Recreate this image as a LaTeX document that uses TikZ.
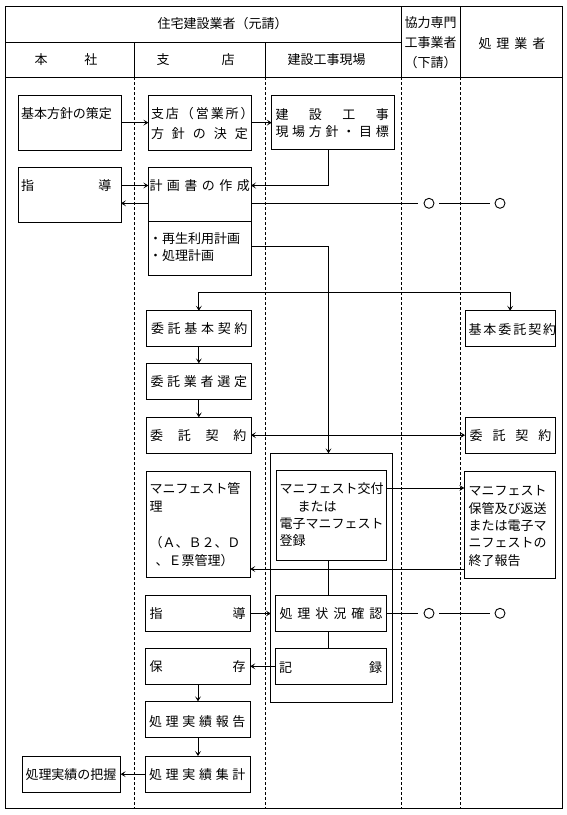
\documentclass[tikz,border=0pt]{standalone}
\usepackage{fontspec}
\setmainfont{Noto Sans CJK JP}
\usetikzlibrary{arrows.meta,fit,calc}
\newcommand\spr[2]{\makebox[#1][s]{#2}}
\newcommand\ml[2]{\parbox[t]{150pt}{\lineskiplimit=-100pt\setlength\baselineskip{#1}#2}}
\tikzset{
  ln/.style={line width=0.9pt},
  box/.style={draw, line width=0.9pt, inner sep=0pt, outer sep=0pt},
  txt/.style={inner sep=0pt, outer sep=0pt, anchor=base west, font=\fontsize{13pt}{17pt}\selectfont},
  arr/.style={line width=0.9pt, -{Stealth[length=5pt,width=6pt,inset=2.5pt]}},
  arrtwo/.style={line width=0.9pt, {Stealth[length=5pt,width=6pt,inset=2.5pt]}-{Stealth[length=5pt,width=6pt,inset=2.5pt]}},
  dsh/.style={line width=0.9pt, dash pattern=on 3pt off 2pt},
  circ/.style={circle, draw, line width=0.9pt, minimum size=10pt, inner sep=0pt}
}
\begin{document}
\begin{tikzpicture}[x=1pt,y=-1pt]
\useasboundingbox (0,0) rectangle (566,815);
% frame and header
\draw[ln] (5,6) rectangle (562.5,808);
\draw[ln] (5,42.3) -- (401.7,42.3);
\draw[ln] (5,77.3) -- (562.5,77.3);
\draw[ln] (134.3,42.3) -- (134.3,77.3);
\draw[ln] (265.7,42.3) -- (265.7,77.3);
\draw[ln] (401.7,6) -- (401.7,77.3);
\draw[ln] (460.5,6) -- (460.5,77.3);
\draw[dsh] (134.3,77.3) -- (134.3,808);
\draw[dsh] (265.7,77.3) -- (265.7,808);
\draw[dsh] (401.7,77.3) -- (401.7,808);
\draw[dsh] (460.5,77.3) -- (460.5,808);
\node[txt] (H1) at (157.5,28.4) {住宅建設業者（元請）};
\node[txt] (H2) at (34.5,64.9) {\spr{63pt}{本 社}};
\node[txt] (H3) at (156.5,64.9) {\spr{78pt}{支 店}};
\node[txt] (H4) at (287.5,64.9) {建設工事現場};
\node[txt] (H5) at (404.5,27.6) {\ml{20pt}{協力専門\\工事業者\\（下請）}};
\node[txt] (H6) at (478.5,48.6) {\spr{67pt}{処 理 業 者}};
% boxes
\node[box, fit={(18.3,95) (121,150.3)}] (B1) {};
\node[box, fit={(148.3,95) (251,150.3)}] (B2) {};
\node[box, fit={(271.7,95.3) (394.3,149.3)}] (B3) {};
\node[box, fit={(18.3,167.7) (121,222.3)}] (B4) {};
\node[box, fit={(148.3,167.7) (251,275)}] (B5) {};
\node[box, fit={(146.7,310.7) (251,346)}] (B6) {};
\node[box, fit={(146.7,363.3) (251,399)}] (B7) {};
\node[box, fit={(146.7,417.3) (251,453)}] (B8) {};
\node[box, fit={(465,310.7) (555.3,346)}] (B9) {};
\node[box, fit={(465,417.3) (555.3,453.3)}] (B10) {};
\node[box, fit={(146.7,471.7) (250.3,577.3)}] (B11) {};
\node[box, fit={(145.7,595.7) (250.3,631.3)}] (B12) {};
\node[box, fit={(270.7,453.3) (392.3,702.3)}] (C) {};
\node[box, fit={(276,470) (386.7,560.3)}] (B13) {};
\node[box, fit={(464.3,471.3) (555.3,578.3)}] (B14) {};
\node[box, fit={(275.7,595.3) (386.7,631.3)}] (B15) {};
\node[box, fit={(275.7,648.3) (386.7,684.3)}] (B16) {};
\node[box, fit={(145.7,648.3) (250.3,684)}] (B17) {};
\node[box, fit={(145.7,701.3) (250.3,737.3)}] (B18) {};
\node[box, fit={(145.7,756) (250.3,792.3)}] (B19) {};
\node[box, fit={(22.3,756) (120.7,792.3)}] (B20) {};
% texts
\node[txt] (T1) at (21,118.2) {基本方針の策定};
\node[txt] (T2) at (151,118.2) {\ml{20pt}{\spr{97pt}{支 店 （ 営 業 所 ）}\\\spr{97pt}{方 針 の 決 定}}};
\node[txt] (T3) at (275.5,119.2) {\ml{17.4pt}{\spr{113.5pt}{建 設 工 事}\\\spr{113.5pt}{現 場 方 針 ・ 目 標}}};
\node[txt] (T4) at (21,190.9) {\spr{90.5pt}{指 導}};
\node[txt] (T5) at (149.5,190.9) {\spr{100.5pt}{計 画 書 の 作 成}};
\node[txt] (T5b) at (149,243.9) {\ml{16.7pt}{・再生利用計画\\・処理計画}};
\node[txt] (T6) at (151,333.9) {\spr{96.5pt}{委 託 基 本 契 約}};
\node[txt] (T7) at (150.5,386.6) {\spr{96.7pt}{委 託 業 者 選 定}};
\node[txt] (T8) at (150,440.6) {\spr{96.5pt}{委 託 契 約}};
\node[txt] (T9) at (468.5,334.2) {\spr{81pt}{基 本 委 託 契 約}};
\node[txt] (T10) at (469.5,440.6) {\spr{82pt}{委 託 契 約}};
\node[txt] (T11) at (149.5,493.9) {\ml{18pt}{マニフェスト管\\理\\\mbox{}\\（Ａ、Ｂ２、Ｄ\\\hspace*{6pt}、Ｅ票管理）}};
\node[txt] (T12) at (149.5,618.2) {\spr{96pt}{指 導}};
\node[txt] (T13) at (279.5,493.9) {\ml{17.2pt}{マニフェスト交付\\\hspace*{18pt}または\\電子マニフェスト\\登録}};
\node[txt] (T14) at (468.5,495.9) {\ml{17.3pt}{マニフェスト\\保管及び返送\\または電子マ\\ニフェストの\\終了報告}};
\node[txt] (T15) at (279.5,618.2) {\spr{103pt}{処 理 状 況 確 認}};
\node[txt] (T16) at (279,672.6) {\spr{103pt}{記 録}};
\node[txt] (T17) at (149.5,671.6) {\spr{96pt}{保 存}};
\node[txt] (T18) at (149,726.6) {\spr{96.5pt}{処 理 実 績 報 告}};
\node[txt] (T19) at (149,779.2) {\spr{96.5pt}{処 理 実 績 集 計}};
\node[txt] (T20) at (25.5,779.2) {処理実績の把握};
% circles
\node[circ] (O1) at (429,203.3) {};
\node[circ] (O2) at (500,203.3) {};
\node[circ] (O3) at (429,613.3) {};
\node[circ] (O4) at (500,613.3) {};
% helper coordinates
\coordinate (vx) at (328.5,0);
\coordinate (y185) at (0,185.5);
\coordinate (y203) at (0,203.3);
\coordinate (y221) at (0,221.3);
\coordinate (y246) at (0,246.7);
\coordinate (y292) at (0,292.3);
\coordinate (y488) at (0,488);
\coordinate (y569) at (0,569);
\draw[ln] (B5.west |- y221) -- (B5.east |- y221);
% connectors
\draw[arr] (B1) -- (B2);
\draw[arr] (B2.east) -- (B2.east -| B3.west);
\draw[arr] (B3.south -| vx) |- (B5.east |- y185);
\draw[arr] (B4.east |- y185) -- (B5.west |- y185);
\draw[arr] (B5.west |- y203) -- (B4.east |- y203);
\draw[ln, shorten >=6pt] (B5.east |- y203) -- (O1);
\draw[ln, shorten <=5pt, shorten >=5pt] (O1) -- (O2);
\draw[arr] (B5.east |- y246) -| (C.north -| vx);
\coordinate (J) at (vx |- y292);
\draw[arr] (J) -| (B6.north);
\draw[arr] (J) -| (B9.north);
\draw[arr] (B6) -- (B7);
\draw[arr] (B7) -- (B8);
\draw[arrtwo] (B8.east) -- (B8.east -| B10.west);
\draw[arr] (B13.east |- y488) -- (B14.west |- y488);
\draw[arr] (B14.west |- y569) -- (B11.east |- y569);
\draw[arr] (B12.east) -- (C.west |- B12.east);
\draw[ln] (B13.south -| vx) -- (B15.north -| vx);
\draw[ln] (B15.south -| vx) -- (B16.north -| vx);
\draw[ln, shorten >=6pt] (B15.east) -- (O3);
\draw[ln, shorten <=5pt, shorten >=5pt] (O3) -- (O4);
\draw[arr] (B16.west) -- (B16.west -| B17.east);
\draw[arr] (B17) -- (B18);
\draw[arr] (B18) -- (B19);
\draw[arr] (B19) -- (B20);
\end{tikzpicture}
\end{document}
